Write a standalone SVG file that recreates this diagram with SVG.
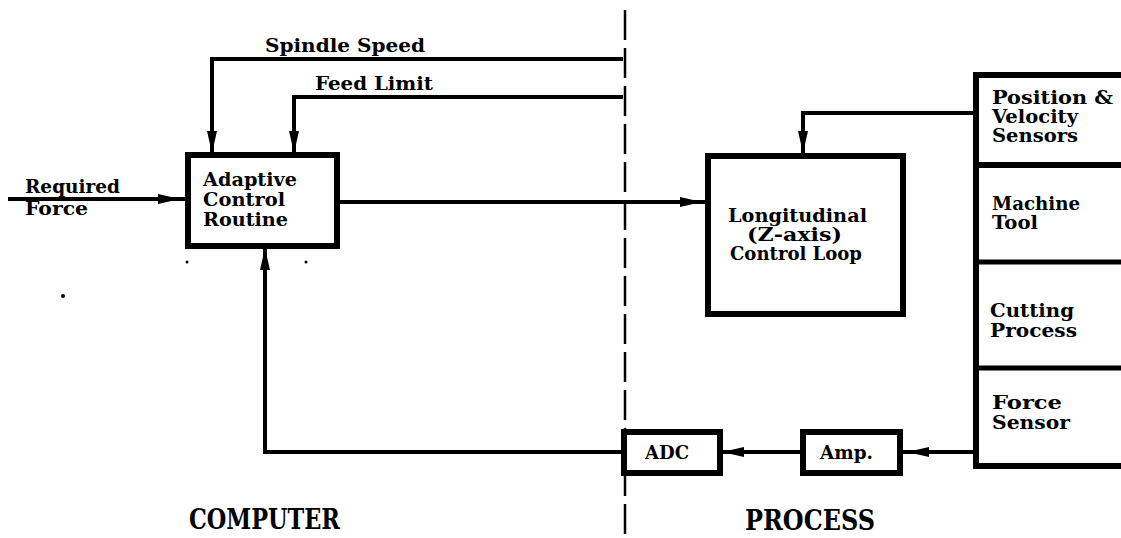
<svg xmlns="http://www.w3.org/2000/svg" width="1121" height="538" viewBox="0 0 1121 538">
  <defs>
    <marker id="arr" viewBox="0 0 22 10" refX="22" refY="5" markerWidth="22" markerHeight="10" markerUnits="userSpaceOnUse" orient="auto">
      <path d="M0,0 L22,5 L0,10 Z" fill="#000"/>
    </marker>
    <style>
      .box { fill: #fff; stroke: #000; stroke-width: 6; }
      .conn { fill: none; stroke: #000; stroke-width: 4; }
      .div { fill: none; stroke: #000; stroke-width: 2.5; stroke-dasharray: 30 8; }
      .lbl { font-family: "DejaVu Serif", "Liberation Serif", serif; font-weight: bold; font-size: 18px; fill: #000; }
      .big { font-family: "DejaVu Serif", "Liberation Serif", serif; font-weight: bold; font-size: 28px; fill: #000; }
    </style>
  </defs>
  <rect width="1121" height="538" fill="#fff"/>

  <line class="div" x1="625" y1="10" x2="625" y2="538"/>

  <g id="connectors">
    <path class="conn" d="M623,59 L212,59 L212,153" marker-end="url(#arr)"/>
    <path class="conn" d="M623,97 L294,97 L294,153" marker-end="url(#arr)"/>
    <path class="conn" d="M8,199 L180,199" marker-end="url(#arr)"/>
    <line class="conn" x1="180" y1="199" x2="188" y2="199"/>
    <path class="conn" d="M338,202 L702,202" marker-end="url(#arr)"/>
    <line class="conn" x1="700" y1="202" x2="708" y2="202"/>
    <path class="conn" d="M975,113 L803,113 L803,153" marker-end="url(#arr)"/>
    <path class="conn" d="M623,452 L265,452 L265,248" marker-end="url(#arr)"/>
    <path class="conn" d="M975,452 L907,452" marker-end="url(#arr)"/>
    <line class="conn" x1="907" y1="452" x2="900" y2="452"/>
    <path class="conn" d="M803,452 L722,452" marker-end="url(#arr)"/>
    <line class="conn" x1="722" y1="452" x2="720" y2="452"/>
  </g>

  <g id="labels">
    <text class="lbl" x="265" y="52" textLength="160" lengthAdjust="spacingAndGlyphs">Spindle Speed</text>
    <text class="lbl" x="315" y="90" textLength="118" lengthAdjust="spacingAndGlyphs">Feed Limit</text>
    <text class="lbl" x="25" y="193" textLength="95" lengthAdjust="spacingAndGlyphs">Required</text>
    <text class="lbl" x="25" y="215" textLength="63" lengthAdjust="spacingAndGlyphs">Force</text>
  </g>

  <g id="adaptive">
    <rect class="box" x="188" y="155" width="149" height="91"/>
    <text class="lbl" x="203" y="186" textLength="94" lengthAdjust="spacingAndGlyphs">Adaptive</text>
    <text class="lbl" x="203" y="206" textLength="82" lengthAdjust="spacingAndGlyphs">Control</text>
    <text class="lbl" x="203" y="226" textLength="85" lengthAdjust="spacingAndGlyphs">Routine</text>
  </g>

  <g id="longitudinal">
    <rect class="box" x="708" y="156" width="195" height="158"/>
    <text class="lbl" x="728" y="222" textLength="139" lengthAdjust="spacingAndGlyphs">Longitudinal</text>
    <text class="lbl" x="747" y="241" textLength="95" lengthAdjust="spacingAndGlyphs">(Z-axis)</text>
    <text class="lbl" x="730" y="260" textLength="132" lengthAdjust="spacingAndGlyphs">Control Loop</text>
  </g>

  <g id="process-column">
    <rect class="box" x="976" y="75" width="160" height="391"/>
    <line x1="976" y1="165" x2="1121" y2="165" stroke="#000" stroke-width="6"/>
    <line x1="976" y1="262" x2="1121" y2="262" stroke="#000" stroke-width="5"/>
    <line x1="976" y1="368" x2="1121" y2="368" stroke="#000" stroke-width="5"/>
  </g>
  <g id="position-sensors">
    <text class="lbl" x="992" y="104" textLength="121" lengthAdjust="spacingAndGlyphs">Position &amp;</text>
    <text class="lbl" x="992" y="123" textLength="86" lengthAdjust="spacingAndGlyphs">Velocity</text>
    <text class="lbl" x="992" y="142" textLength="86" lengthAdjust="spacingAndGlyphs">Sensors</text>
  </g>
  <g id="machine-tool">
    <text class="lbl" x="992" y="210" textLength="88" lengthAdjust="spacingAndGlyphs">Machine</text>
    <text class="lbl" x="992" y="229" textLength="46" lengthAdjust="spacingAndGlyphs">Tool</text>
  </g>
  <g id="cutting-process">
    <text class="lbl" x="990" y="317" textLength="84" lengthAdjust="spacingAndGlyphs">Cutting</text>
    <text class="lbl" x="990" y="337" textLength="87" lengthAdjust="spacingAndGlyphs">Process</text>
  </g>
  <g id="force-sensor">
    <text class="lbl" x="992" y="409" textLength="70" lengthAdjust="spacingAndGlyphs">Force</text>
    <text class="lbl" x="992" y="429" textLength="78" lengthAdjust="spacingAndGlyphs">Sensor</text>
  </g>

  <g id="adc">
    <rect class="box" x="624" y="432" width="96" height="41"/>
    <text class="lbl" x="645" y="459" textLength="44" lengthAdjust="spacingAndGlyphs">ADC</text>
  </g>
  <g id="amp">
    <rect class="box" x="803" y="432" width="97" height="41"/>
    <text class="lbl" x="820" y="459" textLength="53" lengthAdjust="spacingAndGlyphs">Amp.</text>
  </g>

  <text class="big" x="189" y="529" textLength="151" lengthAdjust="spacingAndGlyphs">COMPUTER</text>
  <text class="big" x="745" y="530" textLength="130" lengthAdjust="spacingAndGlyphs">PROCESS</text>

  <circle cx="187" cy="262" r="1.5" fill="#000"/>
  <circle cx="306" cy="262" r="1.5" fill="#000"/>
  <circle cx="63" cy="296" r="2" fill="#000"/>
</svg>
